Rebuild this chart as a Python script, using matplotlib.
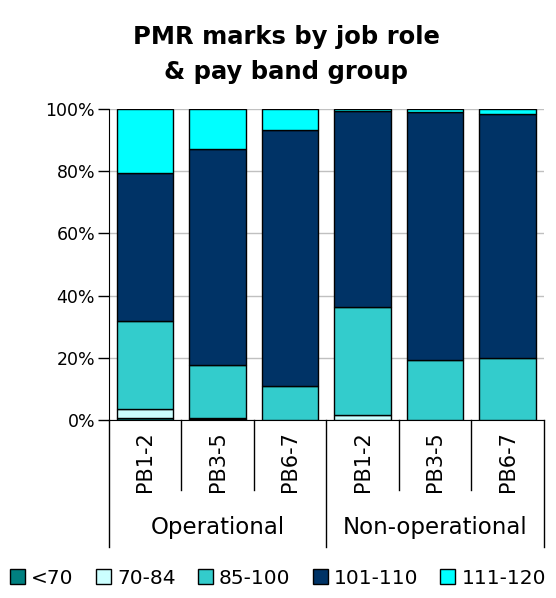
import matplotlib
matplotlib.use("Agg")
import matplotlib.pyplot as plt
import matplotlib.transforms as mtransforms
from matplotlib.patches import Patch
import numpy as np

# Category structure
groups = ["Operational", "Non-operational"]
bands = ["PB1-2", "PB3-5", "PB6-7"]
categories = [f"{g} {b}" for g in groups for b in bands]

# Share of staff in each PMR mark range (%)
series_names = ["<70", "70-84", "85-100", "101-110", "111-120"]
lt70 = [0.5, 0.3, 0.0, 0.1, 0.0, 0.0]
m70_84 = [3.1, 0.2, 0.0, 1.5, 0.0, 0.0]
m85_100 = [28.2, 17.2, 10.9, 34.8, 19.3, 19.8]
m101_110 = [47.5, 69.3, 82.3, 63.0, 79.6, 78.5]
m111_120 = [20.7, 13.0, 6.8, 0.6, 1.1, 1.7]
series = [lt70, m70_84, m85_100, m101_110, m111_120]
colors = ["#008080", "#CCFFFF", "#33CCCC", "#003366", "#00FFFF"]

plt.rcParams["font.family"] = ["DejaVu Sans"]

fig = plt.figure(figsize=(5.56, 5.98), dpi=100)
ax = fig.add_axes([0.196, 0.2977, 0.782, 0.52])

x = np.arange(len(categories))
bottom = np.zeros(len(categories))
for vals, col in zip(series, colors):
    vals = np.array(vals, dtype=float)
    ax.bar(x, vals, bottom=bottom, width=0.78, color=col,
           edgecolor="black", linewidth=1.0, zorder=3)
    bottom += vals

ax.set_xlim(-0.5, len(categories) - 0.5)
ax.set_ylim(0, 100)
ax.set_yticks(np.arange(0, 101, 20))
ax.set_yticklabels([f"{v}%" for v in range(0, 101, 20)], fontsize=12.5)
ax.yaxis.grid(True, color="#c0c0c0", linewidth=1.0, zorder=0)
ax.tick_params(axis="y", length=8, width=1, direction="out", pad=2)

ax.set_xticks(x)
ax.set_xticklabels(bands * len(groups), rotation=90, fontsize=15)
ax.tick_params(axis="x", length=0, pad=8)

for s in ["top", "right"]:
    ax.spines[s].set_visible(False)
ax.spines["left"].set_color("black")
ax.spines["bottom"].set_color("black")

# Multi-level category axis separators
trans = mtransforms.blended_transform_factory(ax.transData, ax.transAxes)
n_b = len(bands)
for i in range(len(categories) + 1):
    xpos = i - 0.5
    if i % n_b == 0:
        ax.plot([xpos, xpos], [0, -0.41], transform=trans, color="black",
                linewidth=1.0, clip_on=False)
    else:
        ax.plot([xpos, xpos], [0, -0.225], transform=trans, color="black",
                linewidth=1.0, clip_on=False)

for gi, g in enumerate(groups):
    xc = gi * n_b + (n_b - 1) / 2
    ax.text(xc, -0.345, g, transform=trans, ha="center", va="center",
            fontsize=16.5)

fig.text(0.515, 0.938, "PMR marks by job role", fontsize=17.5,
         fontweight="bold", ha="center", va="center")
fig.text(0.515, 0.88, "& pay band group", fontsize=17.5,
         fontweight="bold", ha="center", va="center")

handles = [Patch(facecolor=c, edgecolor="black", linewidth=1.0) for c in colors]
fig.legend(handles, series_names, loc="center", bbox_to_anchor=(0.5, 0.033),
           ncol=5, frameon=False, fontsize=14.5, handlelength=0.75,
           handleheight=0.75, handletextpad=0.3, columnspacing=1.1)

fig.savefig("out.png", dpi=100)
